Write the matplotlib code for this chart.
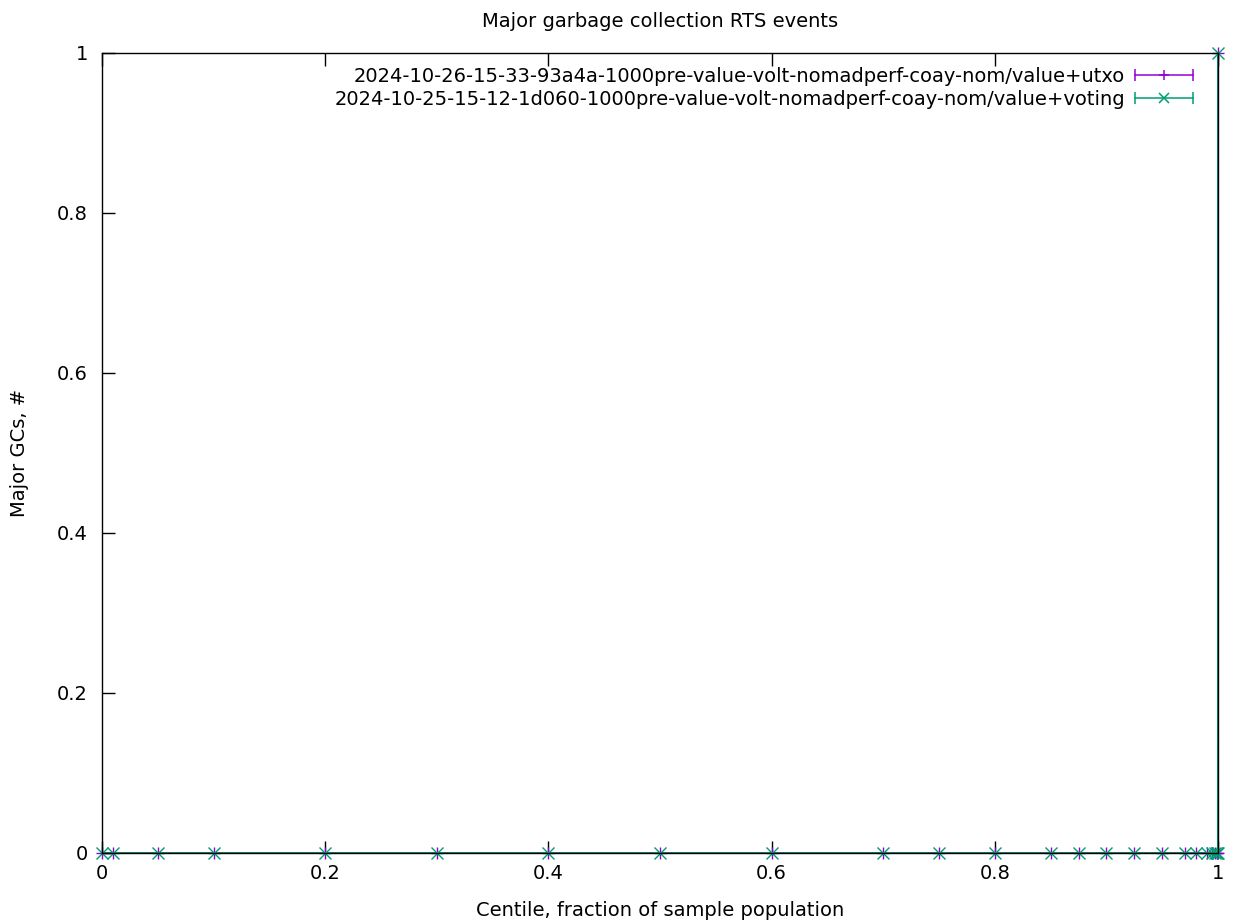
import matplotlib
matplotlib.use('Agg')
import matplotlib.pyplot as plt
from matplotlib.lines import Line2D
from matplotlib.legend_handler import HandlerLine2D, HandlerTuple
from matplotlib.ticker import FuncFormatter

# centile positions and major GC counts
centiles = [0, 0.01, 0.05, 0.1, 0.2, 0.3, 0.4, 0.5, 0.6, 0.7, 0.75, 0.8, 0.85,
            0.875, 0.9, 0.925, 0.95, 0.97, 0.98, 0.99, 0.995, 0.997, 0.999,
            0.9995, 0.9999, 1.0]
utxo_gcs = [0] * 25 + [1]
voting_gcs = [0] * 25 + [1]

labels = [
    '2024-10-26-15-33-93a4a-1000pre-value-volt-nomadperf-coay-nom/value+utxo',
    '2024-10-25-15-12-1d060-1000pre-value-volt-nomadperf-coay-nom/value+voting',
]
colors = ['#9400D3', '#009E73']
markers = ['+', 'x']

plt.rcParams['font.family'] = 'DejaVu Sans'
plt.rcParams['font.size'] = 14

fig = plt.figure(figsize=(12.37, 9.24), dpi=100)
ax = fig.add_axes([102 / 1237, 1 - 853 / 924, 1116 / 1237, 800 / 924])

handles = []
handler_map = {}
for ys, col, mk in zip([utxo_gcs, voting_gcs], colors, markers):
    ax.plot(centiles, ys, color=col, marker=mk, markersize=8, linewidth=1.3,
            markeredgewidth=1.0, clip_on=False)
    cap = Line2D([], [], color=col, linewidth=1.1, marker='|', markersize=9,
                 markeredgewidth=1.1)
    mid = Line2D([], [], color=col, linewidth=0, marker=mk, markersize=7,
                 markeredgewidth=1.1)
    handler_map[cap] = HandlerLine2D(numpoints=2, marker_pad=0)
    handles.append((cap, mid))

ax.set_xlim(0, 1)
ax.set_ylim(0, 1)
ax.set_xticks([0, 0.2, 0.4, 0.6, 0.8, 1])
ax.set_yticks([0, 0.2, 0.4, 0.6, 0.8, 1])
fmt = FuncFormatter(lambda v, p: '%g' % v)
ax.xaxis.set_major_formatter(fmt)
ax.yaxis.set_major_formatter(fmt)
ax.tick_params(direction='in', top=True, right=False, length=9, width=1)
ax.tick_params(axis='x', pad=8)
ax.tick_params(axis='y', pad=10)
for s in ax.spines.values():
    s.set_linewidth(1)

ax.set_title('Major garbage collection RTS events', fontsize=14, pad=19)
ax.set_xlabel('Centile, fraction of sample population', labelpad=13)
ax.set_ylabel('Major GCs, #', labelpad=20)

handler_map[tuple] = HandlerTuple(ndivide=1)
leg = ax.legend(handles, labels, loc='upper right', markerfirst=False,
                frameon=False, handlelength=3.0, handletextpad=0.5,
                labelspacing=0.2, borderaxespad=0.3,
                bbox_to_anchor=(0.99, 1.0), handler_map=handler_map)

fig.savefig('out.png', dpi=100)
